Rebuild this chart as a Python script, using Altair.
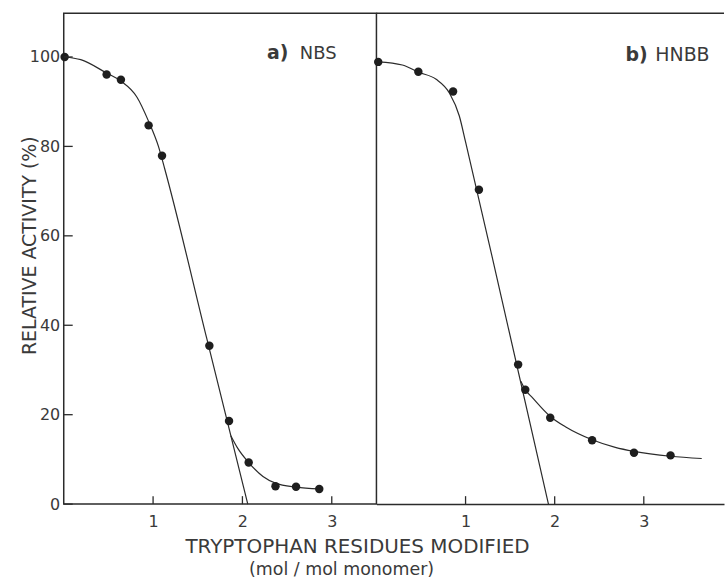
import altair as alt
import pandas as pd

# a) NBS: measured activity
nbs_x = [0.01, 0.48, 0.64, 0.95, 1.10, 1.63, 1.85, 2.07, 2.37, 2.60, 2.86]
nbs_y = [100.0, 96.1, 94.9, 84.7, 77.9, 35.4, 18.6, 9.3, 4.0, 3.9, 3.4]
# a) NBS: drawn curve with its straight extrapolation, and the tail branch
nbs_fit_x = [0.01, 0.19, 0.48, 0.64, 0.82, 0.95, 1.06, 1.13, 1.60, 2.06]
nbs_fit_y = [100.0, 99.4, 96.4, 94.6, 91.0, 85.6, 80.0, 75.0, 37.1, 0.0]
nbs_tail_x = [1.87, 1.95, 2.07, 2.23, 2.37, 2.60, 2.86]
nbs_tail_y = [15.3, 12.4, 9.3, 6.2, 4.7, 3.8, 3.4]

# b) HNBB: measured activity
hnbb_x = [0.02, 0.47, 0.86, 1.15, 1.59, 1.67, 1.95, 2.42, 2.89, 3.30]
hnbb_y = [98.9, 96.7, 92.3, 70.3, 31.2, 25.6, 19.3, 14.3, 11.5, 10.9]
# b) HNBB: drawn curve with its straight extrapolation, and the tail branch
hnbb_fit_x = [0.02, 0.29, 0.47, 0.67, 0.82, 0.93, 1.00, 1.41, 1.93]
hnbb_fit_y = [98.9, 98.2, 96.6, 95.0, 91.9, 86.8, 81.0, 45.5, 0.0]
hnbb_tail_x = [1.62, 1.67, 1.75, 1.95, 2.12, 2.42, 2.68, 2.89, 3.30, 3.65]
hnbb_tail_y = [27.5, 25.6, 23.8, 19.6, 17.3, 14.4, 12.7, 11.8, 10.7, 10.2]

x_ticks = [1, 2, 3]
y_ticks = [0, 20, 40, 60, 80, 100]

FONT = "DejaVu Sans"
INK = "#2b2b2b"
TEXT = "#3a3a3a"
W_L, W_R, H = 314, 349, 493
TICK = 8

y_scale = alt.Scale(domain=[0, 109.8], nice=False, zero=False)


def curves(fit_x, fit_y, tail_x, tail_y):
    return pd.DataFrame({
        "x": fit_x + tail_x,
        "y": fit_y + tail_y,
        "seg": ["fit"] * len(fit_x) + ["tail"] * len(tail_x),
    })


def panel(xs, ys, fit_x, fit_y, tail_x, tail_y, xmax, y_axis, x_domain_line):
    x_scale = alt.Scale(domain=[0, xmax], nice=False, zero=False)
    x_axis = alt.Axis(values=x_ticks, format="d", ticks=False,
                      domain=x_domain_line, domainColor=INK, domainWidth=1.5,
                      grid=False, labelPadding=9, labelFontSize=16,
                      labelFont=FONT, labelColor=TEXT, title=None)
    pts = pd.DataFrame({"x": xs, "y": ys})
    line = alt.Chart(curves(fit_x, fit_y, tail_x, tail_y)).mark_line(
        interpolate="monotone", color=INK, strokeWidth=1.2
    ).encode(
        x=alt.X("x:Q", scale=x_scale, axis=x_axis),
        y=alt.Y("y:Q", scale=y_scale, axis=y_axis),
        detail="seg:N",
    )
    dots = alt.Chart(pts).mark_circle(size=72, color="#1e1e1e", opacity=1).encode(
        x=alt.X("x:Q", scale=x_scale),
        y=alt.Y("y:Q", scale=y_scale),
    )
    xt = alt.Chart(pd.DataFrame({"t": x_ticks})).mark_rule(
        color=INK, strokeWidth=1.3
    ).encode(x=alt.X("t:Q", scale=x_scale), y=alt.value(H), y2=alt.value(H - TICK))
    return line, dots, xt


y_axis_left = alt.Axis(values=y_ticks, ticks=False, domain=False, grid=False,
                       labelPadding=4, labelFontSize=16, labelFont=FONT,
                       labelColor=TEXT, title="RELATIVE ACTIVITY (%)",
                       titleFont=FONT, titleFontSize=19, titleFontWeight="normal",
                       titleColor=TEXT, titleAngle=270, titleX=-28, titleY=233,
                       titleBaseline="alphabetic", titleAlign="center")

l_line, l_dots, l_xt = panel(nbs_x, nbs_y, nbs_fit_x, nbs_fit_y, nbs_tail_x,
                             nbs_tail_y, 3.5, y_axis_left, False)
l_yt = alt.Chart(pd.DataFrame({"t": y_ticks})).mark_rule(
    color=INK, strokeWidth=1.3
).encode(y=alt.Y("t:Q", scale=y_scale), x=alt.value(0), x2=alt.value(TICK + 1))


def label(text, x, y, size, weight="normal"):
    return alt.Chart(pd.DataFrame({"t": [text]})).mark_text(
        align="left", baseline="alphabetic", font=FONT, fontSize=size,
        fontWeight=weight, color=TEXT
    ).encode(text="t:N", x=alt.value(x), y=alt.value(y))


def centered(text, x, y, size):
    return alt.Chart(pd.DataFrame({"t": [text]})).mark_text(
        align="center", baseline="alphabetic", font=FONT, fontSize=size,
        color=TEXT
    ).encode(text="t:N", x=alt.value(x), y=alt.value(y))


left = alt.layer(
    l_line, l_dots, l_xt, l_yt,
    label("a)", 204, 46, 19, "bold"),
    label("NBS", 237, 46, 18),
    centered("TRYPTOPHAN RESIDUES MODIFIED", 295, 542, 20),
    centered("(mol / mol monomer)", 279, 564, 17.5),
).properties(width=W_L, height=H,
             view=alt.ViewBackground(stroke=INK, strokeWidth=1.5))

r_line, r_dots, r_xt = panel(hnbb_x, hnbb_y, hnbb_fit_x, hnbb_fit_y, hnbb_tail_x,
                             hnbb_tail_y, 3.9, None, True)
r_top = alt.Chart(pd.DataFrame({"a": [0]})).mark_rule(
    color=INK, strokeWidth=1.5
).encode(x=alt.value(0), x2=alt.value(W_R), y=alt.value(0))

right = alt.layer(
    r_line, r_dots, r_xt, r_top,
    label("b)", 250, 48, 19, "bold"),
    label("HNBB", 280, 48, 19),
).properties(width=W_R, height=H)

chart = alt.hconcat(left, right, spacing=0, bounds="flush").properties(
    padding={"left": 20, "top": 10, "right": 0, "bottom": 2},
    background="white",
).configure_view(stroke="transparent")

chart.save("out.html", embed_options={"renderer": "svg", "actions": False})
